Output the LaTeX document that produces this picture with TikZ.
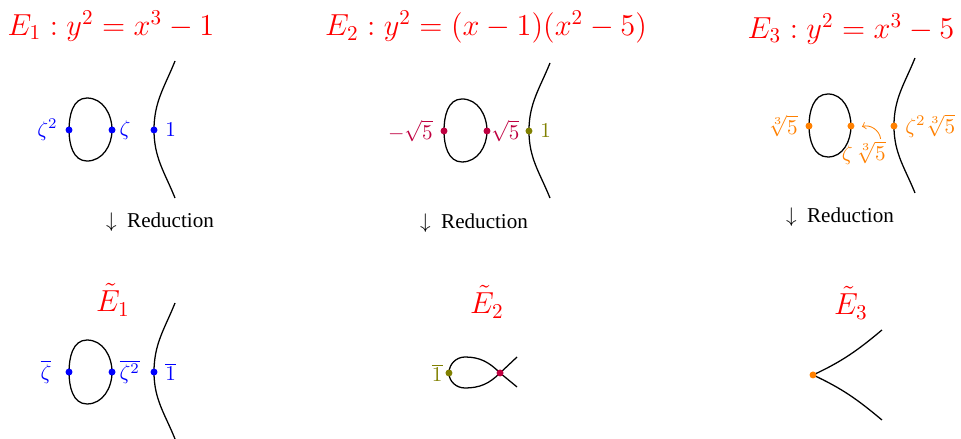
\documentclass[tikz,border=0pt]{standalone}
\usepackage[no-math]{fontspec}
\newfontfamily\reductionfont{Liberation Serif}

\definecolor{eqred}     {HTML}{FF0000}
\definecolor{ptblue}    {HTML}{0000FF}
\definecolor{ptpurple}  {HTML}{BF0040}
\definecolor{ptolive}   {HTML}{808000}
\definecolor{ptorange}  {HTML}{FF8000}

\tikzset{
  curve/.style={black, line width=0.6pt},
  dot/.style={circle, fill=#1, inner sep=0pt, minimum size=3.3pt},
  eqn/.style={text=eqred, font=\Large},
  redux/.style={font=\reductionfont, inner sep=0pt}
}

\begin{document}
\begin{tikzpicture}
\useasboundingbox (0,0) rectangle (16,7.309);

%% ── E_1 : y^2 = x^3 - 1 ─────────────────────────────────────────
\node[eqn] (e1) at (1.848,6.876) {$E_1 : y^2 = x^3 - 1$};
\coordinate (l1) at (1.149,5.145);
\coordinate (r1) at (1.865,5.145);
\coordinate (v1) at (2.564,5.145);
\draw[curve] (l1) to[out=90,in=180] (1.448,5.677) to[out=0,in=90] (r1)
  to[out=-90,in=0] (1.448,4.628) to[out=180,in=-90] (l1);
\draw[curve] (2.914,6.293) to[out=-112,in=90] (v1) to[out=-90,in=112] (2.914,4.012);
\node[dot=ptblue, label={[ptblue]left:$\zeta^2$}] (pl1) at (l1) {};
\node[dot=ptblue, label={[ptblue, inner sep=1.5pt]right:$\zeta$}] (pr1) at (r1) {};
\node[dot=ptblue, label={[ptblue]right:$1$}] (pv1) at (v1) {};
\node[redux] (red1) at (2.664,3.613) {$\downarrow$\enspace Reduction};

%% reduced curve
\node[eqn] (e1r) at (1.881,2.314) {$\tilde{E}_1$};
\coordinate (l4) at (1.149,1.115);
\coordinate (r4) at (1.865,1.115);
\coordinate (v4) at (2.564,1.115);
\draw[curve] (l4) to[out=90,in=180] (1.448,1.648) to[out=0,in=90] (r4)
  to[out=-90,in=0] (1.448,0.583) to[out=180,in=-90] (l4);
\draw[curve] (2.914,2.264) to[out=-112,in=90] (v4) to[out=-90,in=112] (2.914,0);
\node[dot=ptblue, label={[ptblue, label distance=3pt]left:$\overline{\zeta}$}] (pl4) at (l4) {};
\node[dot=ptblue, label={[ptblue, inner sep=1.5pt]right:$\overline{\zeta^2}$}] (pr4) at (r4) {};
\node[dot=ptblue, label={[ptblue]right:$\overline{1}$}] (pv4) at (v4) {};

%% ── E_2 : y^2 = (x-1)(x^2-5) ────────────────────────────────────
\node[eqn] (e2) at (8.091,6.860) {$E_2 : y^2 = (x-1)(x^2-5)$};
\coordinate (l2) at (7.392,5.128);
\coordinate (r2) at (8.108,5.128);
\coordinate (v2) at (8.807,5.128);
\draw[curve] (l2) to[out=90,in=180] (7.692,5.661) to[out=0,in=90] (r2)
  to[out=-90,in=0] (7.692,4.612) to[out=180,in=-90] (l2);
\draw[curve] (9.157,6.260) to[out=-112,in=90] (v2) to[out=-90,in=112] (9.157,4.012);
\node[dot=ptpurple, label={[ptpurple]left:$-\sqrt{5}$}] (pl2) at (l2) {};
\node[dot=ptpurple, label={[ptpurple, inner sep=0pt]right:$\sqrt{5}$}] (pr2) at (r2) {};
\node[dot=ptolive, label={[ptolive]right:$1$}] (pv2) at (v2) {};
\node[redux] (red2) at (7.892,3.596) {$\downarrow$\enspace Reduction};

%% reduced curve: node
\node[eqn] (e2r) at (8.108,2.281) {$\tilde{E}_2$};
\coordinate (p5) at (7.475,1.099);
\coordinate (x5) at (8.325,1.099);
\draw[curve] (8.608,0.866) -- (x5) to[out=135,in=0] (7.742,1.365) to[out=180,in=90] (p5)
  to[out=-90,in=180] (7.742,0.849) to[out=0,in=-135] (x5) -- (8.608,1.365);
\node[dot=ptolive, label={[ptolive, inner sep=1pt]left:$\overline{1}$}] (pp5) at (p5) {};
\node[dot=ptpurple] (px5) at (x5) {};

%% ── E_3 : y^2 = x^3 - 5 ─────────────────────────────────────────
\node[eqn] (e3) at (14.168,6.826) {$E_3 : y^2 = x^3 - 5$};
\coordinate (l3) at (13.469,5.211);
\coordinate (r3) at (14.168,5.211);
\coordinate (v3) at (14.884,5.211);
\draw[curve] (l3) to[out=90,in=180] (13.785,5.744) to[out=0,in=90] (r3)
  to[out=-90,in=0] (13.785,4.695) to[out=180,in=-90] (l3);
\draw[curve] (15.234,6.343) to[out=-112,in=90] (v3) to[out=-90,in=112] (15.234,4.096);
\node[dot=ptorange, label={[ptorange]left:$\sqrt[3]{5}$}] (pl3) at (l3) {};
\node[dot=ptorange] (pr3) at (r3) {};
\node[dot=ptorange, label={[ptorange]right:$\zeta^2\sqrt[3]{5}$}] (pv3) at (v3) {};
\node[text=ptorange, inner sep=1pt] (z3lab) at (14.380,4.762) {$\zeta\,\sqrt[3]{5}$};
\coordinate (z3tip) at (14.351,5.200);
\draw[->, ptorange] (z3lab.40) to[bend right=50] (z3tip);
\node[redux] (red3) at (13.985,3.696) {$\downarrow$\enspace Reduction};

%% reduced curve: cusp
\node[eqn] (e3r) at (14.168,2.264) {$\tilde{E}_3$};
\coordinate (c6) at (13.536,1.066);
\draw[curve] (14.684,1.815) to[out=-140,in=25] (c6) to[out=-25,in=140] (14.684,0.316);
\node[dot=ptorange] (pc6) at (c6) {};
\end{tikzpicture}
\end{document}
